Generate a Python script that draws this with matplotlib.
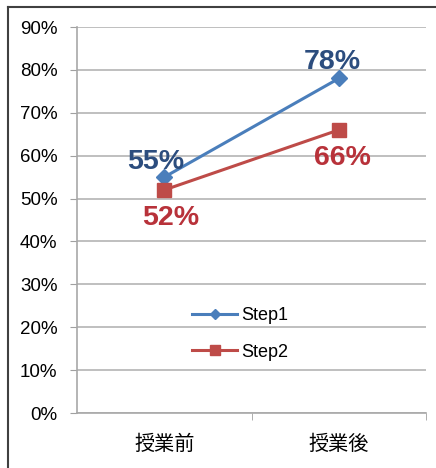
import matplotlib.pyplot as plt
from matplotlib.ticker import PercentFormatter, FixedLocator

categories = ["授業前", "授業後"]
step1 = [0.55, 0.78]
step2 = [0.52, 0.66]
yticks = [0, 0.1, 0.2, 0.3, 0.4, 0.5, 0.6, 0.7, 0.8, 0.9]

blue = "#4A7EBB"
red = "#BE4B48"
blue_txt = "#2C4D7E"
red_txt = "#B8323A"

plt.rcParams['font.family'] = ['Liberation Sans', 'Noto Sans CJK JP', 'DejaVu Sans']

fig = plt.figure(figsize=(4.36, 4.68), dpi=100)
ax = fig.add_axes([0.1766, 0.1175, 0.8005, 0.8248])

x = list(range(len(categories)))
ax.plot(x, step1, color=blue, lw=2.2, marker="D", ms=8, label="Step1", zorder=3)
ax.plot(x, step2, color=red, lw=2.2, marker="s", ms=10, label="Step2", zorder=3)

offsets1 = [(-6, 11), (-5, 11.5)]
offsets2 = [(4.5, -20), (3, -20)]
for xi, v, off in zip(x, step1, offsets1):
    ax.annotate(f"{round(v*100)}%", (xi, v), xytext=off, textcoords="offset points",
                ha="center", va="center", fontsize=20.5, fontweight="bold", color=blue_txt)
for xi, v, off in zip(x, step2, offsets2):
    ax.annotate(f"{round(v*100)}%", (xi, v), xytext=off, textcoords="offset points",
                ha="center", va="center", fontsize=20.5, fontweight="bold", color=red_txt)

ax.set_xlim(-0.5, 1.5)
ax.set_ylim(0, 0.9)
ax.set_yticks(yticks)
ax.yaxis.set_major_formatter(PercentFormatter(1.0, decimals=0))
ax.set_xticks(x)
ax.set_xticklabels(categories, fontfamily=['Noto Sans CJK JP'], fontsize=14.5)
ax.xaxis.set_minor_locator(FixedLocator([0.5, 1.5]))
ax.tick_params(axis="x", which="major", length=0, pad=15)
ax.tick_params(axis="x", which="minor", length=5, color="#a0a0a0")
ax.tick_params(axis="y", length=5, color="#a0a0a0", labelsize=13.5, pad=9)

ax.grid(axis="y", color="#b4b4b4", lw=1.2)
ax.set_axisbelow(True)
for s in ["top", "right"]:
    ax.spines[s].set_visible(False)
for s in ["left", "bottom"]:
    ax.spines[s].set_color("#a8a8a8")
    ax.spines[s].set_linewidth(1.2)

ax.legend(loc="center", bbox_to_anchor=(0.467, 0.205), frameon=False, fontsize=13,
          labelspacing=1.1, handlelength=2.5, handletextpad=0.2, markerscale=0.7)

# outer frame (top and left edges visible)
fig.add_artist(plt.Line2D([8/436, 8/436], [0, 1 - 7/468], transform=fig.transFigure,
                          color="#404040", lw=1.5))
fig.add_artist(plt.Line2D([8/436, 1], [1 - 7/468, 1 - 7/468], transform=fig.transFigure,
                          color="#404040", lw=1.5))

fig.savefig("out.png", dpi=100)
